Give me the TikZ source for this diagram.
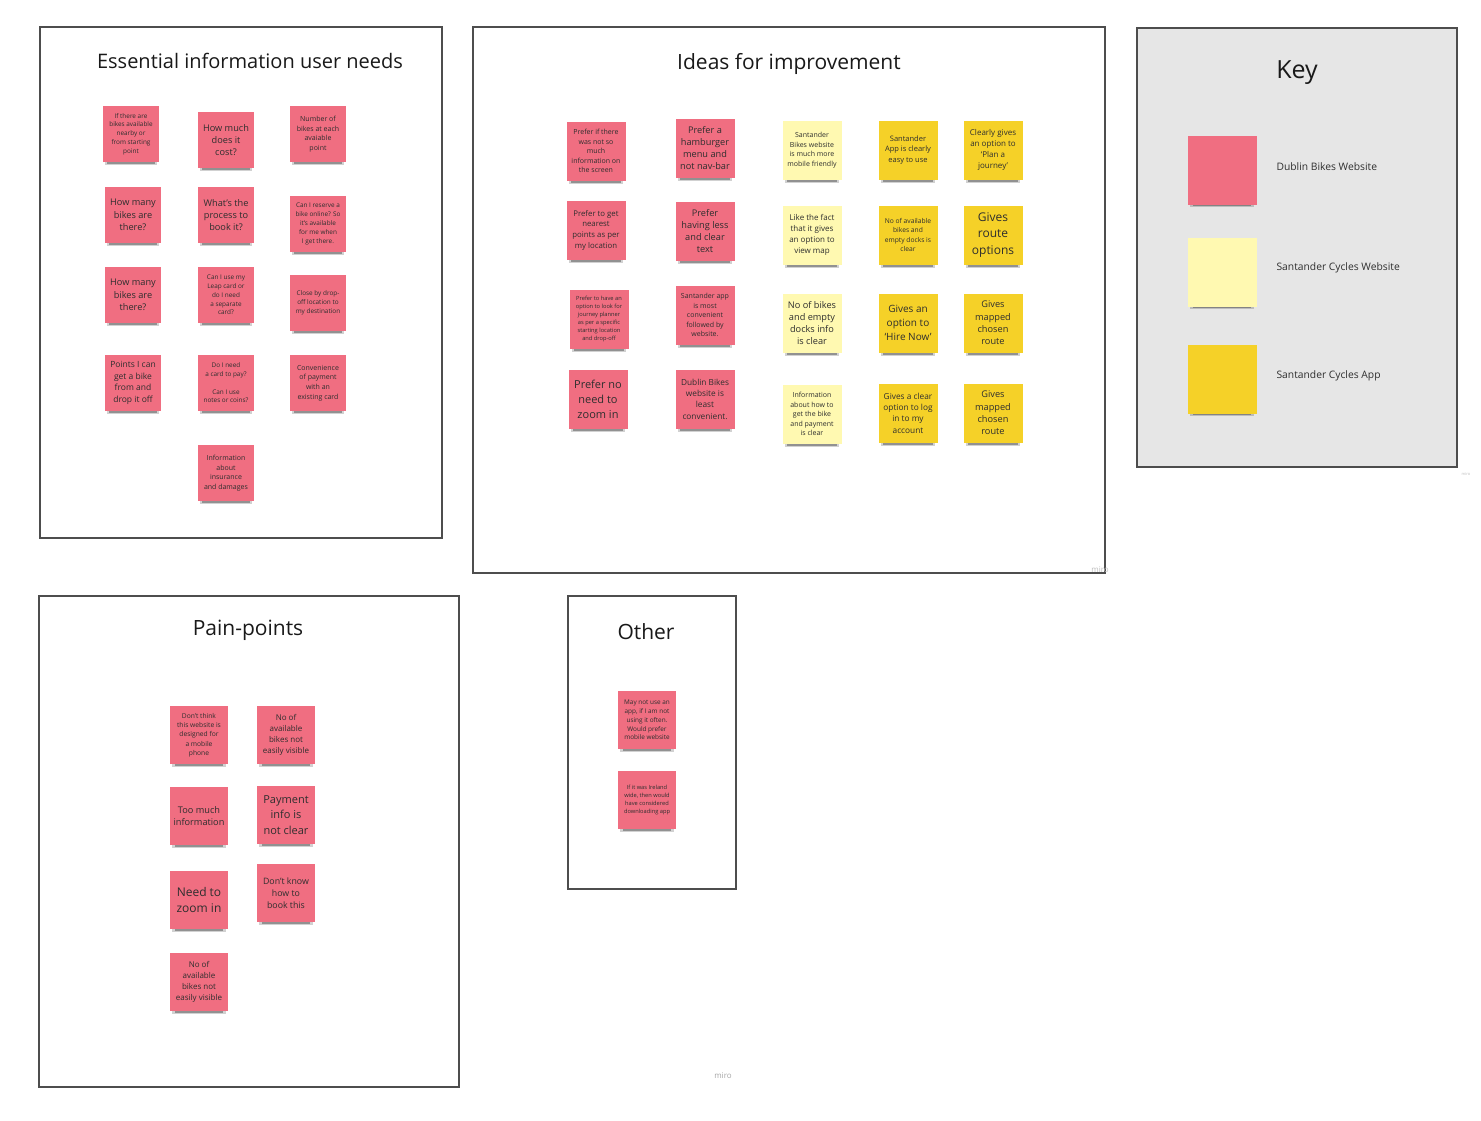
\documentclass[tikz,border=0pt]{standalone}
\usepackage{fontspec}
\setmainfont{Open Sans}
\usepackage{xcolor}
\usetikzlibrary{shapes,positioning,shadows}
\definecolor{dublinpink}{HTML}{F06E81}
\definecolor{santcream}{HTML}{FFF9B1}
\definecolor{santgold}{HTML}{F5D128}
\definecolor{keygrey}{HTML}{E6E6E6}
\definecolor{framegrey}{HTML}{4D4D4D}
\definecolor{inkgrey}{HTML}{2E2E2E}

\begin{document}
\begin{tikzpicture}[x=1pt,y=-1pt]
  % Definir estilos
  \tikzstyle{board}=[draw=framegrey, line width=1.5pt, fill=white]
  \tikzstyle{heading}=[font=\fontsize{21}{25}\selectfont, text=black!90]
  \tikzstyle{note}=[rectangle, minimum size=56pt, inner sep=0pt, align=center, text=inkgrey,
    drop shadow={shadow xshift=0pt, shadow yshift=-6pt, shadow scale=0.92, opacity=0.18, fill=black},
    drop shadow={shadow xshift=0pt, shadow yshift=-8pt, shadow scale=0.84, opacity=0.3, fill=black}]
  \tikzstyle{dublin}=[note, fill=dublinpink]
  \tikzstyle{santweb}=[note, fill=santcream]
  \tikzstyle{santapp}=[note, fill=santgold]
  \tikzstyle{big}=[minimum size=59pt]
  \tikzstyle{mid}=[minimum size=58pt]
  \tikzstyle{fa}=[font=\fontsize{5.7}{8}\selectfont]
  \tikzstyle{fb}=[font=\fontsize{6.4}{8.8}\selectfont]
  \tikzstyle{fc}=[font=\fontsize{7}{9.6}\selectfont]
  \tikzstyle{fd}=[font=\fontsize{8}{11}\selectfont]
  \tikzstyle{fe}=[font=\fontsize{9.2}{12.3}\selectfont]
  \tikzstyle{fg}=[font=\fontsize{12}{16.5}\selectfont]
  \tikzstyle{keylabel}=[right, font=\fontsize{10.3}{12}\selectfont, text=inkgrey]
  \tikzstyle{watermark}=[font=\fontsize{8}{9}\selectfont, text=black!35]

  \useasboundingbox (0,0) rectangle (1481,1120);

  % Marcos
  \draw[board] (40,27) rectangle (442,538);
  \draw[board] (473,27) rectangle (1105,573);
  \draw[board, fill=keygrey] (1137,28) rectangle (1457,467);
  \draw[board] (39,596) rectangle (459,1087);
  \draw[board] (568,596) rectangle (736,889);

  % Titulos
  \node[heading, font=\fontsize{20}{24}\selectfont] (tessential) at (250,61) {Essential information user needs};
  \node[heading] (tideas) at (789,64) {Ideas for improvement};
  \node[heading, font=\fontsize{25}{30}\selectfont] (tkey) at (1297,73) {Key};
  \node[heading] (tpain) at (248,630) {Pain-points};
  \node[heading] (tother) at (646,632) {Other};

  % Essential information user needs
  \node[dublin, fb] (e1) at (131,134) {If there are\\bikes available\\nearby or\\from starting\\point};
  \node[dublin, fe] (e2) at (226,140) {How much\\does it\\cost?};
  \node[dublin, fc] (e3) at (318,134) {Number of\\bikes at each\\avaiable\\point};
  \node[dublin, fe] (e4) at (133,215) {How many\\bikes are\\there?};
  \node[dublin, fe] (e5) at (226,215) {What's the\\process to\\book it?};
  \node[dublin, fb] (e6) at (318,224) {Can I reserve a\\bike online? So\\it's available\\for me when\\I get there.};
  \node[dublin, fe] (e7) at (133,295) {How many\\bikes are\\there?};
  \node[dublin, fb] (e8) at (226,295) {Can I use my\\Leap card or\\do I need\\a separate\\card?};
  \node[dublin, fb] (e9) at (318,303) {Close by drop-\\off location to\\my destination};
  \node[dublin, font=\fontsize{8.5}{11.7}\selectfont] (e10) at (133,383) {Points I can\\get a bike\\from and\\drop it off};
  \node[dublin, fb] (e11) at (226,383) {Do I need\\a card to pay?\\[8.8pt]Can I use\\notes or coins?};
  \node[dublin, fc] (e12) at (318,383) {Convenience\\of payment\\with an\\existing card};
  \node[dublin, fc] (e13) at (226,473) {Information\\about\\insurance\\and damages};

  % Ideas for improvement
  \node[dublin, big, fc] (i1) at (596,151) {Prefer if there\\was not so\\much\\information on\\the screen};
  \node[dublin, big, fe] (i2) at (705,148) {Prefer a\\hamburger\\menu and\\not nav-bar};
  \node[santweb, big, fc] (i3) at (812,150) {Santander\\Bikes website\\is much more\\mobile friendly};
  \node[santapp, big, font=\fontsize{7.5}{10.3}\selectfont] (i4) at (908,150) {Santander\\App is clearly\\easy to use};
  \node[santapp, big, fd] (i5) at (993,150) {Clearly gives\\an option to\\`Plan a\\journey'};
  \node[dublin, big, font=\fontsize{7.8}{10.7}\selectfont] (i6) at (596,230) {Prefer to get\\nearest\\points as per\\my location};
  \node[dublin, big, fe] (i7) at (705,231) {Prefer\\having less\\and clear\\text};
  \node[santweb, big, fd] (i8) at (812,235) {Like the fact\\that it gives\\an option to\\view map};
  \node[santapp, big, font=\fontsize{6.7}{9.3}\selectfont] (i9) at (908,235) {No of available\\bikes and\\empty docks is\\clear};
  \node[santapp, big, fg] (i10) at (993,235) {Gives\\route\\options};
  \node[dublin, big, fa] (i11) at (599,319) {Prefer to have an\\option to look for\\journey planner\\as per a specific\\starting location\\and drop-off};
  \node[dublin, big, fc] (i12) at (705,315) {Santander app\\is most\\convenient\\followed by\\website.};
  \node[santweb, big, fe] (i13) at (812,323) {No of bikes\\and empty\\docks info\\is clear};
  \node[santapp, big, font=\fontsize{10}{13.7}\selectfont] (i14) at (908,323) {Gives an\\option to\\`Hire Now'};
  \node[santapp, big, fe] (i15) at (993,323) {Gives\\mapped\\chosen\\route};
  \node[dublin, big, font=\fontsize{11}{15}\selectfont] (i16) at (598,399) {Prefer no\\need to\\zoom in};
  \node[dublin, big, font=\fontsize{8.3}{11.3}\selectfont] (i17) at (705,399) {Dublin Bikes\\website is\\least\\convenient.};
  \node[santweb, big, fc] (i18) at (812,414) {Information\\about how to\\get the bike\\and payment\\is clear};
  \node[santapp, big, font=\fontsize{8.3}{11.3}\selectfont] (i19) at (908,413) {Gives a clear\\option to log\\in to my\\account};
  \node[santapp, big, fe] (i20) at (993,413) {Gives\\mapped\\chosen\\route};

  % Key
  \node[dublin, minimum size=69pt] (kdublin) at (1222,170) {};
  \node[keylabel] (ldublin) at (1273,167) {Dublin Bikes Website};
  \node[santweb, minimum size=69pt] (ksantweb) at (1222,272) {};
  \node[keylabel] (lsantweb) at (1273,268) {Santander Cycles Website};
  \node[santapp, minimum size=69pt] (ksantapp) at (1222,379) {};
  \node[keylabel] (lsantapp) at (1273,376) {Santander Cycles App};

  % Pain-points
  \node[dublin, mid, font=\fontsize{6.7}{9.3}\selectfont] (p1) at (199,735) {Don't think\\this website is\\designed for\\a mobile\\phone};
  \node[dublin, mid, fd] (p2) at (286,735) {No of\\available\\bikes not\\easily visible};
  \node[dublin, mid, fe] (p3) at (199,816) {Too much\\information};
  \node[dublin, mid, font=\fontsize{11}{15.3}\selectfont] (p4) at (286,815) {Payment\\info is\\not clear};
  \node[dublin, mid, fg] (p5) at (199,900) {Need to\\zoom in};
  \node[dublin, mid, font=\fontsize{8.8}{12}\selectfont] (p6) at (286,893) {Don't know\\how to\\book this};
  \node[dublin, mid, fd] (p7) at (199,982) {No of\\available\\bikes not\\easily visible};

  % Other
  \node[dublin, mid, fb] (o1) at (647,720) {May not use an\\app, if I am not\\using it often.\\Would prefer\\mobile website};
  \node[dublin, mid, fa] (o2) at (647,800) {If it was Ireland\\wide, then would\\have considered\\downloading app};

  % miro
  \node[watermark] (m1) at (723,1076) {miro};
  \node[watermark, text=black!25] (m2) at (1100,570) {miro};
  \node[watermark, font=\fontsize{4}{5}\selectfont, text=black!25] (m3) at (1466,474) {miro};
\end{tikzpicture}
\end{document}
